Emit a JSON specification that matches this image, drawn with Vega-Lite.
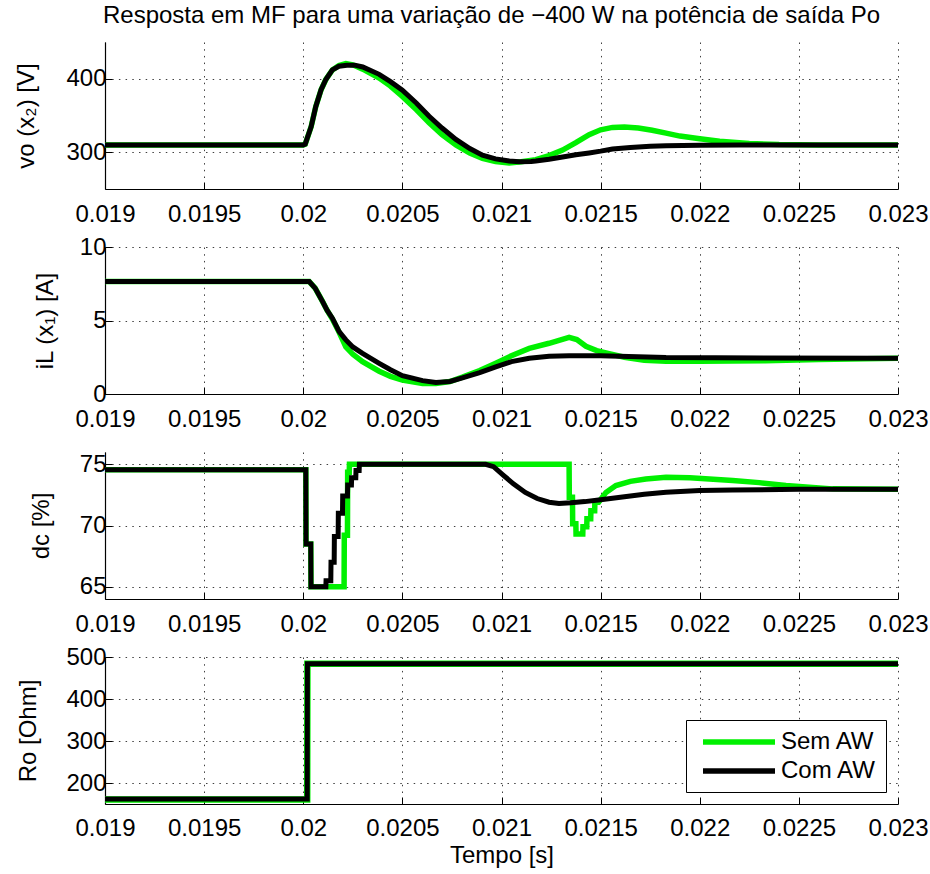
{
"$schema": "https://vega.github.io/schema/vega-lite/v6.json",
"background": "white",
"padding": {"left": 14, "top": 4, "right": 1, "bottom": 5},
"datasets": {
"vo": [
{"s":"Sem AW","t":0.019,"v":310},{"s":"Sem AW","t":0.02,"v":310},{"s":"Sem AW","t":0.02001,"v":311},{"s":"Sem AW","t":0.02004,"v":335},{"s":"Sem AW","t":0.020063,"v":362},{"s":"Sem AW","t":0.02009,"v":385},{"s":"Sem AW","t":0.020114,"v":399},{"s":"Sem AW","t":0.020147,"v":412},{"s":"Sem AW","t":0.02018,"v":418},{"s":"Sem AW","t":0.020215,"v":420.5},{"s":"Sem AW","t":0.02025,"v":419},{"s":"Sem AW","t":0.0203,"v":413},{"s":"Sem AW","t":0.020383,"v":401},{"s":"Sem AW","t":0.02044,"v":390},{"s":"Sem AW","t":0.0205,"v":376},{"s":"Sem AW","t":0.02057,"v":358},{"s":"Sem AW","t":0.020635,"v":340},{"s":"Sem AW","t":0.0207,"v":324},{"s":"Sem AW","t":0.02077,"v":310},{"s":"Sem AW","t":0.02084,"v":299},{"s":"Sem AW","t":0.020904,"v":291.5},{"s":"Sem AW","t":0.02097,"v":287.5},{"s":"Sem AW","t":0.021039,"v":285.5},{"s":"Sem AW","t":0.0211,"v":287},{"s":"Sem AW","t":0.021173,"v":290},{"s":"Sem AW","t":0.02124,"v":295.5},{"s":"Sem AW","t":0.021308,"v":303},{"s":"Sem AW","t":0.021375,"v":313},{"s":"Sem AW","t":0.021442,"v":324},{"s":"Sem AW","t":0.0215,"v":330.5},{"s":"Sem AW","t":0.02156,"v":333.8},{"s":"Sem AW","t":0.02162,"v":334.3},{"s":"Sem AW","t":0.02169,"v":333},{"s":"Sem AW","t":0.02176,"v":330},{"s":"Sem AW","t":0.02183,"v":326},{"s":"Sem AW","t":0.0219,"v":322},{"s":"Sem AW","t":0.022,"v":318.5},{"s":"Sem AW","t":0.0221,"v":315},{"s":"Sem AW","t":0.02225,"v":312},{"s":"Sem AW","t":0.0224,"v":310.5},{"s":"Sem AW","t":0.0226,"v":310},{"s":"Sem AW","t":0.023,"v":310},
{"s":"Com AW","t":0.019,"v":310},{"s":"Com AW","t":0.02,"v":310},{"s":"Com AW","t":0.02001,"v":311},{"s":"Com AW","t":0.02004,"v":335},{"s":"Com AW","t":0.020063,"v":362},{"s":"Com AW","t":0.02009,"v":385},{"s":"Com AW","t":0.020114,"v":399},{"s":"Com AW","t":0.020147,"v":412},{"s":"Com AW","t":0.02018,"v":417},{"s":"Com AW","t":0.02022,"v":418.5},{"s":"Com AW","t":0.02026,"v":418.5},{"s":"Com AW","t":0.0203,"v":416},{"s":"Com AW","t":0.020383,"v":406},{"s":"Com AW","t":0.02044,"v":396},{"s":"Com AW","t":0.0205,"v":384.5},{"s":"Com AW","t":0.02057,"v":367},{"s":"Com AW","t":0.020635,"v":349},{"s":"Com AW","t":0.0207,"v":333},{"s":"Com AW","t":0.02077,"v":317.5},{"s":"Com AW","t":0.02084,"v":305},{"s":"Com AW","t":0.020904,"v":296},{"s":"Com AW","t":0.02097,"v":291},{"s":"Com AW","t":0.021039,"v":288},{"s":"Com AW","t":0.021089,"v":287},{"s":"Com AW","t":0.02115,"v":287.5},{"s":"Com AW","t":0.021173,"v":288},{"s":"Com AW","t":0.02124,"v":290.5},{"s":"Com AW","t":0.021308,"v":293.5},{"s":"Com AW","t":0.021375,"v":296.5},{"s":"Com AW","t":0.021442,"v":299},{"s":"Com AW","t":0.0215,"v":301.5},{"s":"Com AW","t":0.02156,"v":304.5},{"s":"Com AW","t":0.02165,"v":306.5},{"s":"Com AW","t":0.02175,"v":308},{"s":"Com AW","t":0.02183,"v":308.7},{"s":"Com AW","t":0.022,"v":309.6},{"s":"Com AW","t":0.0222,"v":310},{"s":"Com AW","t":0.023,"v":310}
],
"il": [
{"s":"Sem AW","t":0.019,"v":7.65},{"s":"Sem AW","t":0.02003,"v":7.65},{"s":"Sem AW","t":0.02006,"v":7.2},{"s":"Sem AW","t":0.020097,"v":6.3},{"s":"Sem AW","t":0.02012,"v":5.7},{"s":"Sem AW","t":0.020147,"v":5.1},{"s":"Sem AW","t":0.020181,"v":4.2},{"s":"Sem AW","t":0.020215,"v":3.2},{"s":"Sem AW","t":0.02025,"v":2.7},{"s":"Sem AW","t":0.020299,"v":2.2},{"s":"Sem AW","t":0.020383,"v":1.55},{"s":"Sem AW","t":0.02044,"v":1.2},{"s":"Sem AW","t":0.0205,"v":0.95},{"s":"Sem AW","t":0.020602,"v":0.72},{"s":"Sem AW","t":0.020669,"v":0.72},{"s":"Sem AW","t":0.02074,"v":0.85},{"s":"Sem AW","t":0.020803,"v":1.15},{"s":"Sem AW","t":0.02089,"v":1.6},{"s":"Sem AW","t":0.020971,"v":2.1},{"s":"Sem AW","t":0.02105,"v":2.6},{"s":"Sem AW","t":0.02114,"v":3.1},{"s":"Sem AW","t":0.02124,"v":3.45},{"s":"Sem AW","t":0.021341,"v":3.85},{"s":"Sem AW","t":0.02138,"v":3.7},{"s":"Sem AW","t":0.021426,"v":3.25},{"s":"Sem AW","t":0.02148,"v":2.95},{"s":"Sem AW","t":0.021543,"v":2.75},{"s":"Sem AW","t":0.02162,"v":2.5},{"s":"Sem AW","t":0.02172,"v":2.3},{"s":"Sem AW","t":0.02183,"v":2.22},{"s":"Sem AW","t":0.022,"v":2.22},{"s":"Sem AW","t":0.02233,"v":2.27},{"s":"Sem AW","t":0.0226,"v":2.35},{"s":"Sem AW","t":0.023,"v":2.43},
{"s":"Com AW","t":0.019,"v":7.65},{"s":"Com AW","t":0.02003,"v":7.65},{"s":"Com AW","t":0.02006,"v":7.2},{"s":"Com AW","t":0.020097,"v":6.3},{"s":"Com AW","t":0.02012,"v":5.7},{"s":"Com AW","t":0.020147,"v":5.16},{"s":"Com AW","t":0.020181,"v":4.25},{"s":"Com AW","t":0.020215,"v":3.68},{"s":"Com AW","t":0.02025,"v":3.2},{"s":"Com AW","t":0.020299,"v":2.77},{"s":"Com AW","t":0.020383,"v":2.09},{"s":"Com AW","t":0.02044,"v":1.65},{"s":"Com AW","t":0.0205,"v":1.25},{"s":"Com AW","t":0.020602,"v":0.91},{"s":"Com AW","t":0.020669,"v":0.78},{"s":"Com AW","t":0.02074,"v":0.85},{"s":"Com AW","t":0.020803,"v":1.1},{"s":"Com AW","t":0.02089,"v":1.45},{"s":"Com AW","t":0.020971,"v":1.85},{"s":"Com AW","t":0.02105,"v":2.2},{"s":"Com AW","t":0.02114,"v":2.43},{"s":"Com AW","t":0.02124,"v":2.57},{"s":"Com AW","t":0.021341,"v":2.6},{"s":"Com AW","t":0.0215,"v":2.6},{"s":"Com AW","t":0.02183,"v":2.48},{"s":"Com AW","t":0.02233,"v":2.45},{"s":"Com AW","t":0.023,"v":2.43}
],
"dc": [
{"s":"Sem AW","t":0.019,"v":74.55},{"s":"Sem AW","t":0.020013,"v":74.55},{"s":"Sem AW","t":0.020014,"v":68.5},{"s":"Sem AW","t":0.020038,"v":68.5},{"s":"Sem AW","t":0.020039,"v":65},{"s":"Sem AW","t":0.020206,"v":65},{"s":"Sem AW","t":0.020207,"v":69.2},{"s":"Sem AW","t":0.020223,"v":69.2},{"s":"Sem AW","t":0.020224,"v":74.35},{"s":"Sem AW","t":0.020232,"v":74.35},{"s":"Sem AW","t":0.020233,"v":75},{"s":"Sem AW","t":0.021341,"v":75},{"s":"Sem AW","t":0.021342,"v":72.3},{"s":"Sem AW","t":0.021358,"v":72.3},{"s":"Sem AW","t":0.021359,"v":70.15},{"s":"Sem AW","t":0.021375,"v":70.15},{"s":"Sem AW","t":0.021376,"v":69.3},{"s":"Sem AW","t":0.02141,"v":69.3},{"s":"Sem AW","t":0.021411,"v":69.9},{"s":"Sem AW","t":0.02143,"v":69.9},{"s":"Sem AW","t":0.021431,"v":70.55},{"s":"Sem AW","t":0.02145,"v":70.55},{"s":"Sem AW","t":0.021451,"v":71.2},{"s":"Sem AW","t":0.02147,"v":71.2},{"s":"Sem AW","t":0.021471,"v":71.9},{"s":"Sem AW","t":0.02149,"v":71.9},{"s":"Sem AW","t":0.021527,"v":72.7},{"s":"Sem AW","t":0.021577,"v":73.26},{"s":"Sem AW","t":0.02165,"v":73.6},{"s":"Sem AW","t":0.021728,"v":73.8},{"s":"Sem AW","t":0.02183,"v":73.94},{"s":"Sem AW","t":0.02195,"v":73.9},{"s":"Sem AW","t":0.022166,"v":73.67},{"s":"Sem AW","t":0.0223,"v":73.5},{"s":"Sem AW","t":0.022435,"v":73.26},{"s":"Sem AW","t":0.02267,"v":72.99},{"s":"Sem AW","t":0.023,"v":72.95},
{"s":"Com AW","t":0.019,"v":74.55},{"s":"Com AW","t":0.020013,"v":74.55},{"s":"Com AW","t":0.020014,"v":68.5},{"s":"Com AW","t":0.020038,"v":68.5},{"s":"Com AW","t":0.020039,"v":65},{"s":"Com AW","t":0.020114,"v":65},{"s":"Com AW","t":0.020115,"v":65.5},{"s":"Com AW","t":0.020139,"v":65.5},{"s":"Com AW","t":0.02014,"v":67},{"s":"Com AW","t":0.020156,"v":67},{"s":"Com AW","t":0.020157,"v":69.1},{"s":"Com AW","t":0.020176,"v":69.1},{"s":"Com AW","t":0.020177,"v":71},{"s":"Com AW","t":0.020198,"v":71},{"s":"Com AW","t":0.020199,"v":72.4},{"s":"Com AW","t":0.020223,"v":72.4},{"s":"Com AW","t":0.020224,"v":73.3},{"s":"Com AW","t":0.020243,"v":73.3},{"s":"Com AW","t":0.020244,"v":73.9},{"s":"Com AW","t":0.020265,"v":73.9},{"s":"Com AW","t":0.020266,"v":74.5},{"s":"Com AW","t":0.020282,"v":74.5},{"s":"Com AW","t":0.020283,"v":75},{"s":"Com AW","t":0.02092,"v":75},{"s":"Com AW","t":0.02096,"v":74.8},{"s":"Com AW","t":0.02101,"v":74.1},{"s":"Com AW","t":0.02106,"v":73.4},{"s":"Com AW","t":0.02112,"v":72.7},{"s":"Com AW","t":0.02118,"v":72.2},{"s":"Com AW","t":0.02124,"v":71.9},{"s":"Com AW","t":0.02129,"v":71.8},{"s":"Com AW","t":0.02135,"v":71.85},{"s":"Com AW","t":0.02142,"v":71.95},{"s":"Com AW","t":0.0215,"v":72.1},{"s":"Com AW","t":0.02162,"v":72.35},{"s":"Com AW","t":0.02172,"v":72.55},{"s":"Com AW","t":0.02183,"v":72.72},{"s":"Com AW","t":0.022,"v":72.85},{"s":"Com AW","t":0.022166,"v":72.9},{"s":"Com AW","t":0.0225,"v":72.95},{"s":"Com AW","t":0.023,"v":72.95}
],
"ro": [
{"s":"Sem AW","t":0.019,"v":161},{"s":"Sem AW","t":0.02002,"v":161},{"s":"Sem AW","t":0.020021,"v":484},{"s":"Sem AW","t":0.023,"v":484},
{"s":"Com AW","t":0.019,"v":162},{"s":"Com AW","t":0.02002,"v":162},{"s":"Com AW","t":0.020021,"v":484},{"s":"Com AW","t":0.023,"v":484}
]
},
"config": {
"font": "Liberation Sans",
"view": {"stroke": null},
"axis": {
"domainColor": "black", "domainWidth": 1.2, "tickColor": "black", "tickSize": -7, "tickWidth": 1,
"labelFont": "Liberation Sans", "labelFontSize": 24, "labelColor": "black", "labelFlush": false, "labelOverlap": false,
"titleFont": "Liberation Sans", "titleFontSize": 24, "titleFontWeight": "normal", "titleColor": "black",
"grid": true, "gridColor": "black", "gridDash": [1.5, 5.2], "gridOpacity": 0.75, "gridWidth": 1
},
"axisX": {"labelPadding": 20.5},
"axisY": {"labelPadding": 6},
"legend": {
"title": null, "strokeColor": "black", "fillColor": "white", "padding": 9, "cornerRadius": 0,
"labelFont": "Liberation Sans", "labelFontSize": 24, "labelColor": "black",
"symbolType": "M-0.5,0H6.7", "symbolSize": 400, "symbolStrokeWidth": 5.5, "rowPadding": 4, "labelOffset": 60
},
"title": {"font": "Liberation Sans", "fontSize": 24, "fontWeight": "normal", "color": "black"}
},
"spacing": 58,
"bounds": "flush",
"resolve": {"scale": {"color": "independent"}, "legend": {"color": "independent"}},
"vconcat": [
{
"width": 793, "height": 147,
"data": {"name": "vo"},
"title": {"text": "Resposta em MF para uma variação de −400 W na potência de saída Po", "anchor": "middle", "frame": "group", "offset": 14, "dx": -10},
"encoding": {
"x": {"field": "t", "type": "quantitative", "scale": {"domain": [0.019, 0.023], "nice": false, "zero": false}, "axis": {"values": [0.019, 0.0195, 0.02, 0.0205, 0.021, 0.0215, 0.022, 0.0225, 0.023], "format": "~g", "title": null}},
"y": {"field": "v", "type": "quantitative", "scale": {"domain": [250, 450], "nice": false, "zero": false}, "axis": {"values": [300, 400], "title": "vo (x₂) [V]", "titlePadding": 27}},
"color": {"field": "s", "type": "nominal", "scale": {"domain": ["Sem AW", "Com AW"], "range": ["#00f000", "#000000"]}, "legend": null}
},
"layer": [
{"transform": [{"filter": "datum.s === 'Sem AW'"}], "mark": {"type": "line", "strokeWidth": 5.5}},
{"transform": [{"filter": "datum.s === 'Com AW'"}], "mark": {"type": "line", "strokeWidth": 5}}
]
},
{
"width": 793, "height": 147,
"data": {"name": "il"},
"encoding": {
"x": {"field": "t", "type": "quantitative", "scale": {"domain": [0.019, 0.023], "nice": false, "zero": false}, "axis": {"values": [0.019, 0.0195, 0.02, 0.0205, 0.021, 0.0215, 0.022, 0.0225, 0.023], "format": "~g", "title": null}},
"y": {"field": "v", "type": "quantitative", "scale": {"domain": [0, 10], "nice": false, "zero": false}, "axis": {"values": [0, 5, 10], "title": "iL (x₁) [A]", "titlePadding": 22}},
"color": {"field": "s", "type": "nominal", "scale": {"domain": ["Sem AW", "Com AW"], "range": ["#00f000", "#000000"]}, "legend": null}
},
"layer": [
{"transform": [{"filter": "datum.s === 'Sem AW'"}], "mark": {"type": "line", "strokeWidth": 5.5}},
{"transform": [{"filter": "datum.s === 'Com AW'"}], "mark": {"type": "line", "strokeWidth": 5}}
]
},
{
"width": 793, "height": 147,
"data": {"name": "dc"},
"encoding": {
"x": {"field": "t", "type": "quantitative", "scale": {"domain": [0.019, 0.023], "nice": false, "zero": false}, "axis": {"values": [0.019, 0.0195, 0.02, 0.0205, 0.021, 0.0215, 0.022, 0.0225, 0.023], "format": "~g", "title": null}},
"y": {"field": "v", "type": "quantitative", "scale": {"domain": [64, 76], "nice": false, "zero": false}, "axis": {"values": [65, 70, 75], "title": "dc [%]", "titleX": -52}},
"color": {"field": "s", "type": "nominal", "scale": {"domain": ["Sem AW", "Com AW"], "range": ["#00f000", "#000000"]}, "legend": null}
},
"layer": [
{"transform": [{"filter": "datum.s === 'Sem AW'"}], "mark": {"type": "line", "strokeWidth": 5.5}},
{"transform": [{"filter": "datum.s === 'Com AW'"}], "mark": {"type": "line", "strokeWidth": 5}}
]
},
{
"width": 793, "height": 147,
"data": {"name": "ro"},
"encoding": {
"x": {"field": "t", "type": "quantitative", "scale": {"domain": [0.019, 0.023], "nice": false, "zero": false}, "axis": {"values": [0.019, 0.0195, 0.02, 0.0205, 0.021, 0.0215, 0.022, 0.0225, 0.023], "format": "~g", "title": "Tempo [s]", "titlePadding": 3, "labelPadding": 19}},
"y": {"field": "v", "type": "quantitative", "scale": {"domain": [150, 500], "nice": false, "zero": false}, "axis": {"values": [200, 300, 400, 500], "title": "Ro [Ohm]", "titlePadding": 25}},
"color": {"field": "s", "type": "nominal", "scale": {"domain": ["Sem AW", "Com AW"], "range": ["#00f000", "#000000"]}, "legend": {"orient": "bottom-right", "offset": 12}}
},
"layer": [
{"transform": [{"filter": "datum.s === 'Sem AW'"}], "mark": {"type": "line", "strokeWidth": 6.5}},
{"transform": [{"filter": "datum.s === 'Com AW'"}], "mark": {"type": "line", "strokeWidth": 5}}
]
}
]
}
